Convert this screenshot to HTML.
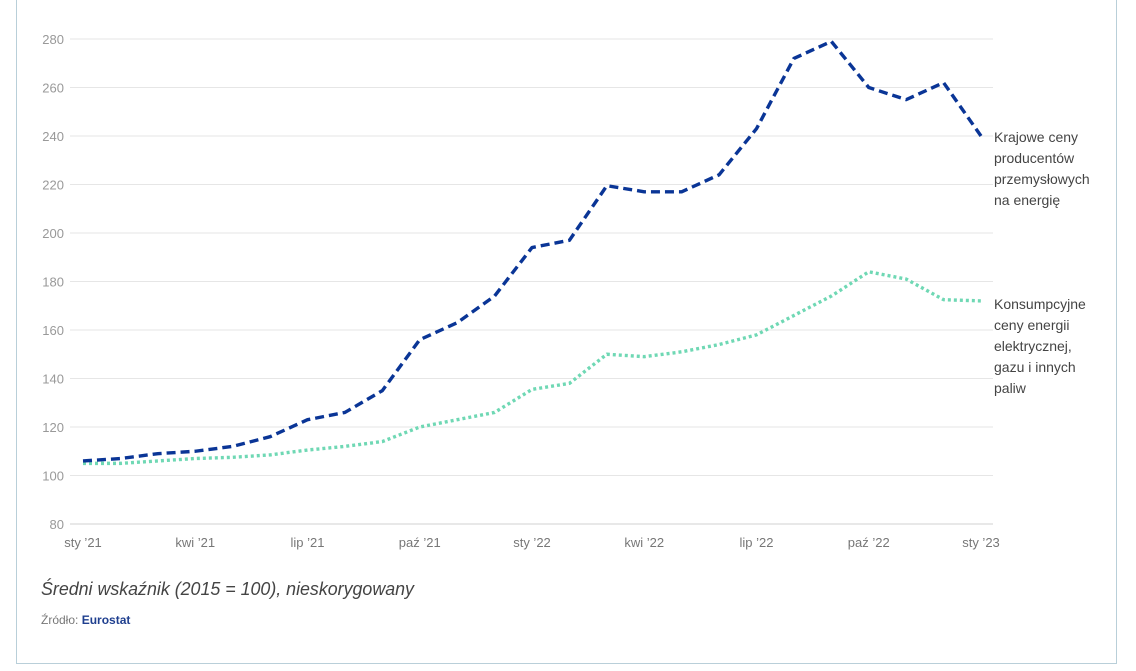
<!DOCTYPE html>
<html><head><meta charset="utf-8"><style>
body{margin:0;background:#fff;width:1136px;height:671px;overflow:hidden;font-family:"Liberation Sans",sans-serif}
#frame{position:absolute;left:16px;top:-2px;width:1101px;height:666px;border:1px solid #b9cfd9;box-sizing:border-box}
#note{position:absolute;left:41px;top:579px;font-size:18px;font-style:italic;color:#444;transform:scaleX(0.99);transform-origin:left top;white-space:nowrap}
#src{position:absolute;left:41px;top:613px;font-size:12px;color:#777}
#src b{color:#1f3f8f}
</style></head><body>
<div id="frame"></div>
<svg id="chart" width="1136" height="671" style="position:absolute;left:0;top:0"></svg>
<div id="note">Średni wskaźnik (2015 = 100), nieskorygowany</div>
<div id="src">Źródło: <b>Eurostat</b></div>
<script>
const monthsCount = 25;
const xTickLabels = ["sty '21","kwi '21","lip '21","paź '21","sty '22","kwi '22","lip '22","paź '22","sty '23"];
const yTicks = [80,100,120,140,160,180,200,220,240,260,280];
const producerPrices = [106,107,109,110,112,116,123,126,135,156,163,174,194,197,219.5,217,217,224,243,272,279,260,255,262,240];
const consumerPrices = [105,105,106,107,107.5,108.5,110.5,112,114,120,123,126,135.5,138,150,149,151,154,158,166,174,184,181,172.5,172];
const svg=document.getElementById('chart');
const NS='http://www.w3.org/2000/svg';
const x0=83,x1=981,yb=524,yt=39;
const xs=i=>x0+(x1-x0)*i/(monthsCount-1);
const ys=v=>yb-(v-80)/200*(yb-yt);
function mk(t,a){const e=document.createElementNS(NS,t);for(const k in a)e.setAttribute(k,a[k]);svg.appendChild(e);return e;}
yTicks.forEach(v=>{
  const l=mk('line',{x1:70,x2:993,y1:ys(v),y2:ys(v),stroke:v===80?'#d0d0d0':'#e6e6e6','stroke-width':1});
  
  
  const t=mk('text',{x:64,y:ys(v)+5,'text-anchor':'end','font-size':13,fill:'#999','font-family':'Liberation Sans'});
  t.textContent=v;
  
  
});
xTickLabels.forEach((s,i)=>{
  const t=mk('text',{x:xs(i*3),y:547,'text-anchor':'middle','font-size':13,fill:'#777','font-family':'Liberation Sans'});
  t.textContent=s.replace("'","’");
  
  
});
function line(data,color,dash,name){
  const p=mk('polyline',{points:data.map((v,i)=>xs(i)+','+ys(v)).join(' '),fill:'none',stroke:color,'stroke-width':3.4,'stroke-dasharray':dash,'stroke-linejoin':'round'});
  
  
}
line(consumerPrices,'#6fd8b4','3 3','consumer-energy-line');
line(producerPrices,'#0a3596','9 5','producer-energy-line');
function label(lines,y,name){
  lines.forEach((s,i)=>{
    const t=mk('text',{x:994,y:y+i*21,'font-size':14,fill:'#444','font-family':'Liberation Sans'});
    t.textContent=s;
    
    
  });
}
label(['Krajowe ceny','producentów','przemysłowych','na energię'],142,'producer-series-label');
label(['Konsumpcyjne','ceny energii','elektrycznej,','gazu i innych','paliw'],309,'consumer-series-label');
</script>
</body></html>
